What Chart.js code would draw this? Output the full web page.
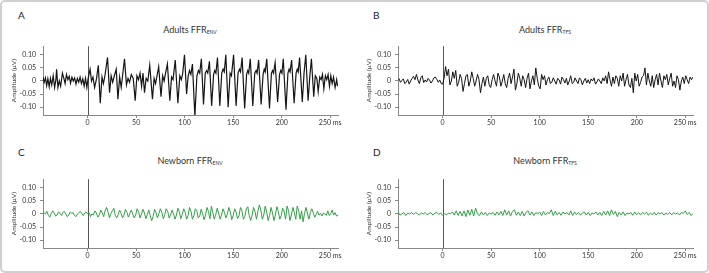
<!DOCTYPE html>
<html>
<head>
<meta charset="utf-8">
<script src="https://cdn.jsdelivr.net/npm/chart.js@4.4.1/dist/chart.umd.min.js"></script>
<style>
  body { margin: 0; background: #fff; font-family: Lato, sans-serif; }
  #frame { position: absolute; left: 0; top: 0; width: 709px; height: 273px; box-sizing: border-box;
           border: 2px solid #cfcfcf; border-radius: 5px; }
  .panel { position: absolute; width: 352px; height: 97px; }
  .letter { position: absolute; font-size: 10px; color: #222; }
  .title { position: absolute; font-size: 9px; font-weight: 400; color: #333; transform: translateX(-50%); white-space: nowrap; }
  .title sub { font-size: 5px; vertical-align: -1px; }
</style>
</head>
<body>
<div id="frame"></div>

<div class="letter" style="left:18px;top:9px">A</div>
<div class="title" style="left:190px;top:24px">Adults FFR<sub>ENV</sub></div>
<div class="panel" style="left:0;top:38px"><canvas id="a" width="352" height="97"></canvas></div>

<div class="letter" style="left:373px;top:9px">B</div>
<div class="title" style="left:545px;top:24px">Adults FFR<sub>TFS</sub></div>
<div class="panel" style="left:355px;top:38px"><canvas id="b" width="352" height="97"></canvas></div>

<div class="letter" style="left:18px;top:146px">C</div>
<div class="title" style="left:190px;top:155px">Newborn FFR<sub>ENV</sub></div>
<div class="panel" style="left:0;top:171px"><canvas id="c" width="352" height="97"></canvas></div>

<div class="letter" style="left:373px;top:146px">D</div>
<div class="title" style="left:545px;top:155px">Newborn FFR<sub>TFS</sub></div>
<div class="panel" style="left:355px;top:171px"><canvas id="d" width="352" height="97"></canvas></div>

<script>
const xTicks = [0, 50, 100, 150, 200, 250];
const yTicks = [-0.1, -0.05, 0, 0.05, 0.1];
const yTickLabels = ['-0.10', '-0.05', '0', '0.05', '0.10'];

// Adults ENV: turning points (ms, µV)
const adultEnvTimes = [
  -46, -44.8, -43.5, -42.2, -41, -39.6, -38.4, -37, -35.5, -34, -32.7, -32, -30.6, -29.2, -27.8, -26, -24.6, -23.2,
  -21.8, -20.4, -19, -17.6, -16.2, -14.8, -13.4, -12, -10.6, -9.2, -7.8, -6.4, -5, -3.6, -2.2, -0.8,
  0.5, 2.5, 4, 5.5, 7.2, 9.2, 11, 13, 14.8, 16.3, 17.8, 20.5, 22.6, 24.2, 25.8, 27.5, 29.5, 31.2, 33, 34.6, 36, 38,
  40, 41.6, 43.2, 45, 47, 49, 50.8, 52.4, 54, 55.6, 57, 58.6, 60.3, 62, 64, 66.8, 68.5, 70, 71.5, 73.2, 75.6, 77.3,
  78.8, 80.3, 82.2, 84.7, 86.5, 88, 90.3, 93, 95, 96.6, 98, 99.8, 102, 103.6, 105, 106.4, 108, 110.5, 112.6, 114.2,
  115.5, 117.2, 119.4, 121.2, 122.6, 123.8, 125.5, 127.8, 129.8, 131, 132.2, 133.8, 136.2, 138.2, 139.6, 140.8,
  142.4, 144.8, 146.8, 148.2, 150.4, 153, 155, 156.5, 157.6, 159.2, 161.8, 163.8, 165, 166, 167.6, 170.2, 172.2,
  173.6, 174.6, 176.2, 178.8, 180.8, 182, 183, 184.6, 187.4, 189.4, 190.6, 191.6, 193.2, 195.8, 197.8, 199, 200.2,
  201.6, 204.4, 206.4, 207.6, 208.6, 210.2, 212.8, 214.8, 216, 217, 218.4, 221.2, 223, 224.8, 227.2, 229, 230.6,
  233, 234.6, 236.2, 237.6, 239.2, 240.6, 242, 243.4, 245, 246.4, 247.8, 249.2, 250.6, 252, 253.4, 255, 256.6, 257.5
];
const adultEnvValues = [
  0.015, -0.005, 0.012, -0.018, 0.008, -0.022, 0.01, -0.015, 0.02, -0.025, 0.005, 0.045, -0.025, 0.0, -0.02, 0.03, 0.012, -0.01,
  0.025, 0.005, 0.018, -0.008, 0.015, 0.0, 0.012, -0.012, 0.01, -0.005, 0.015, -0.01, 0.008, -0.02, 0.01, -0.025,
  0.01, 0.045, 0.0, 0.015, -0.025, 0.01, 0.06, -0.085, 0.015, -0.01, 0.02, 0.09, -0.045, 0.02, -0.005, 0.02, 0.045, -0.07, 0.015, -0.025, 0.02, 0.085,
  -0.015, 0.01, -0.005, 0.025, 0.01, -0.075, 0.02, 0.005, 0.03, -0.02, 0.03, -0.045, 0.01, 0.0, 0.06, -0.07, 0.01, -0.01, 0.02, 0.055, -0.06, 0.02,
  0.0, 0.03, 0.065, -0.075, 0.015, 0.005, 0.08, -0.085, 0.02, 0.005, 0.03, 0.1, -0.05, 0.02, 0.04, 0.025, 0.065, -0.135, 0.02, 0.04,
  0.03, 0.085, -0.09, 0.03, 0.04, 0.03, 0.075, -0.095, 0.025, 0.04, 0.03, 0.09, -0.095, 0.03, 0.045, 0.035,
  0.1, -0.1, 0.03, 0.02, 0.1, -0.095, 0.03, 0.045, 0.035, 0.09, -0.105, 0.025, 0.04, 0.03, 0.085, -0.095, 0.03,
  0.04, 0.03, 0.08, -0.09, 0.025, 0.045, 0.035, 0.085, -0.105, 0.03, 0.04, 0.03, 0.07, -0.08, 0.025, 0.04, 0.03,
  0.085, -0.11, 0.03, 0.045, 0.035, 0.08, -0.085, 0.03, 0.045, 0.035, 0.09, -0.08, 0.03, 0.1, -0.075, 0.02, 0.085,
  -0.06, 0.02, 0.01, -0.04, 0.015, 0.005, 0.025, -0.03, 0.02, 0.005, 0.025, -0.02, 0.02, -0.01, 0.015, -0.025, 0.005, -0.02
];

// Adults TFS: one value every 1.5 ms from -45 ms
const adultTfsStart = -45, adultTfsStep = 1.5;
const adultTfsValues = [
  0.01, -0.005, 0.002, 0.008, -0.01, -0.004, 0.006, -0.012, 0.0, 0.01,
  0.018, 0.005, 0.025, 0.004, -0.01, 0.012, 0.02, -0.006, 0.004, -0.004,
  0.01, 0.004, -0.008, 0.0, 0.012, 0.015, 0.006, -0.005, 0.004, -0.01,
  -0.012,
  0.01, 0.055, 0.02, 0.045, -0.015, 0.0, 0.035, 0.01, 0.04, -0.02,
  -0.005, 0.025, 0.01, -0.04, -0.01, 0.02, 0.025, -0.02, 0.0, 0.035,
  0.01, -0.02, 0.0, 0.025, 0.005, -0.045, -0.01, 0.015, -0.02, 0.01,
  0.02, -0.015, -0.025, 0.005, 0.025, 0.0, -0.02, 0.03, 0.015, -0.02,
  0.0, 0.025, -0.01, -0.025, 0.01, 0.03, -0.01, 0.015, 0.045, -0.035,
  -0.01, 0.03, 0.01, -0.02, 0.02, 0.005, -0.025, 0.01, 0.03, -0.03,
  0.0, 0.02, -0.015, 0.05, 0.01, -0.02, -0.03, 0.025, 0.005, 0.02,
  -0.015, 0.005, 0.015, -0.01, -0.005, 0.012, 0.0, -0.012, 0.01, 0.005,
  -0.012, 0.015, 0.005, -0.008, 0.01, -0.015, 0.0, 0.02, -0.01, -0.005,
  0.012, 0.0, -0.01, 0.012, 0.005, -0.015, 0.0, 0.01, -0.008, 0.005,
  -0.01, 0.008, 0.0, 0.012, -0.012, -0.004, 0.008, 0.0, -0.01, 0.012,
  0.0, 0.02, -0.01, 0.035, 0.005, -0.02, 0.015, -0.01, 0.02, 0.01,
  -0.02, 0.02, 0.0, 0.03, -0.02, 0.005, 0.025, -0.015, -0.025, 0.01,
  -0.045, 0.03, 0.0, 0.025, -0.02, -0.005, 0.015, 0.02, 0.05, -0.015,
  0.03, 0.0, -0.02, 0.02, -0.025, 0.005, 0.025, -0.015, 0.03, 0.0,
  -0.025, 0.02, 0.005, 0.025, -0.015, 0.01, 0.03, -0.02, 0.0, -0.025,
  0.02, 0.005, -0.035, 0.0, 0.015, -0.01, 0.02, 0.005, -0.01, 0.015,
  0.005, 0.015
];

// Newborn ENV: one value every 1.5 ms from -45 ms
const newbornEnvStart = -45, newbornEnvStep = 1.5;
const newbornEnvValues = [
  0.005, 0.0, 0.01, -0.005, -0.012, 0.002, 0.012, 0.004, -0.008, -0.004,
  0.008, 0.003, -0.006, 0.006, 0.01, 0.0, -0.01, -0.004, 0.008, 0.002,
  0.005, -0.006, -0.01, 0.0, 0.006, 0.01, 0.002, -0.006, 0.004, 0.008,
  0.0,
  0.005, -0.01, 0.0, -0.004, 0.012, 0.004, -0.012, -0.004, 0.015, 0.005,
  -0.01, 0.012, 0.025, 0.008, -0.015, 0.002, 0.012, 0.022, -0.005, -0.015,
  -0.002, 0.015, 0.002, -0.015, -0.004, 0.018, 0.006, -0.012, 0.002, 0.015,
  0.0, -0.015, -0.004, 0.02, 0.008, -0.015, 0.0, 0.018, 0.004, -0.018,
  -0.002, 0.015, -0.006, -0.025, -0.01, 0.018, 0.004, -0.015, 0.002, 0.02,
  0.006, -0.018, -0.002, 0.02, 0.01, -0.015, -0.004, 0.015, 0.0, -0.02,
  -0.004, 0.022, 0.008, -0.018, -0.002, 0.02, 0.006, -0.02, -0.006, 0.025,
  0.01, -0.02, -0.006, 0.02, 0.012, -0.015, -0.008, 0.018, 0.002, -0.022,
  -0.004, 0.025, 0.01, -0.018, 0.03, 0.006, -0.02, -0.002, 0.022, 0.004,
  -0.02, -0.004, 0.02, 0.006, -0.015, 0.0, 0.025, 0.008, -0.022, -0.006,
  0.02, 0.008, -0.018, -0.006, 0.025, 0.012, -0.02, -0.01, 0.02, 0.028,
  -0.006, -0.025, -0.004, 0.025, 0.008, -0.02, 0.012, 0.035, 0.015, -0.02,
  -0.004, 0.03, 0.008, -0.025, -0.006, 0.025, 0.004, -0.025, -0.004, 0.028,
  0.01, -0.02, -0.006, 0.022, 0.01, -0.02, 0.03, 0.014, -0.025, -0.004,
  0.025, 0.006, -0.02, 0.03, 0.012, -0.02, 0.012, -0.03, 0.002, 0.025,
  0.004, -0.02, 0.006, 0.02, 0.004, -0.012, -0.002, 0.01, -0.004, 0.003,
  -0.008, 0.004, 0.0, -0.005, 0.012, -0.006, 0.002, 0.015, -0.004, 0.005,
  -0.008, -0.004
];

// Newborn TFS: one value every 2 ms from -46 ms
const newbornTfsStart = -46, newbornTfsStep = 2;
const newbornTfsValues = [
  0.008, -0.004, 0.0, 0.006, -0.006, 0.004, 0.0, 0.006, -0.002, 0.005,
  0.002, -0.004, 0.004, 0.0, 0.006, -0.003, 0.002, 0.005, -0.004, 0.003,
  0.006, -0.002, 0.004,
  -0.006,
  0.002, -0.004, 0.004, 0.0, 0.008, -0.004, 0.012, -0.006, 0.01, -0.008,
  0.012, -0.01, 0.015, -0.005, 0.018, -0.008, 0.022, 0.0, -0.006, 0.008,
  -0.004, 0.006, -0.006, 0.004, 0.0, 0.006, -0.005, 0.008, -0.004, 0.01,
  -0.006, 0.016, -0.004, 0.012, -0.008, 0.01, 0.016, -0.005, 0.008, -0.006,
  0.01, -0.008, 0.006, 0.012, -0.004, 0.008, -0.006, 0.005, 0.0, 0.008,
  -0.006, 0.01, -0.004, 0.006, 0.002, 0.016, -0.006, 0.01, -0.004, 0.006,
  -0.005, 0.008, 0.0, 0.006, -0.004, 0.012, -0.006, 0.008, -0.002, 0.006,
  -0.005, 0.004, 0.008, -0.004, 0.006, -0.006, 0.004, 0.0, 0.008, -0.004,
  0.006, -0.006, 0.01, -0.004, 0.012, -0.006, 0.016, -0.002, 0.01, -0.01,
  0.006, -0.004, 0.008, -0.006, 0.004, 0.0, 0.006, -0.005, 0.008, -0.003,
  0.005, -0.004, 0.006, 0.0, 0.007, -0.005, 0.004, -0.003, 0.006, -0.004,
  0.005, 0.0, 0.006, -0.004, 0.004, -0.002, 0.006, -0.004, 0.005, 0.0,
  0.004, -0.004, 0.006, 0.002, 0.012, -0.002, 0.006, -0.006, 0.002
];

const pairs = (times, values) => values.map((v, i) => ({ x: times[i], y: v }));
const stepped = (start, step, values) => values.map((v, i) => ({ x: start + i * step, y: v }));

const zeroLine = {
  id: 'zeroLine',
  beforeDatasetsDraw(chart) {
    const { ctx, chartArea, scales } = chart;
    const x = Math.round(scales.x.getPixelForValue(0)) + 0.5;
    ctx.save();
    ctx.strokeStyle = '#555';
    ctx.lineWidth = 1;
    ctx.beginPath();
    ctx.moveTo(x, chartArea.top);
    ctx.lineTo(x, chartArea.bottom);
    ctx.stroke();
    ctx.restore();
  }
};

const tickFont = { family: 'Lato', size: 7 };

function panel(id, points, color, width) {
  new Chart(document.getElementById(id), {
    type: 'line',
    data: { datasets: [{ data: points, borderColor: color, borderWidth: width, pointRadius: 0, tension: 0, fill: false }] },
    plugins: [zeroLine],
    options: {
      responsive: false,
      animation: false,
      devicePixelRatio: 1,
      layout: { padding: { left: 10, right: 14, top: 4, bottom: 0 } },
      plugins: { legend: { display: false }, tooltip: { enabled: false } },
      scales: {
        x: {
          type: 'linear', min: -46, max: 258,
          afterBuildTicks: s => { s.ticks = xTicks.map(v => ({ value: v })); },
          afterFit: s => { s.height = 20; },
          ticks: { callback: v => v === 250 ? '250 ms' : String(v), font: tickFont, color: '#333',
                   padding: 1, maxRotation: 0, autoSkip: false },
          grid: { drawOnChartArea: false, tickLength: 3, color: '#888' },
          border: { color: '#888' }
        },
        y: {
          min: -0.13, max: 0.133,
          afterBuildTicks: s => { s.ticks = yTicks.map(v => ({ value: v })); },
          afterFit: s => { s.width = 33; },
          ticks: { callback: (v, i) => yTickLabels[i], font: tickFont, color: '#333', padding: 4 },
          title: { display: true, text: 'Amplitude (µV)', font: { family: 'Lato', size: 6.5 }, color: '#333',
                   padding: { top: 0, bottom: 0 } },
          grid: { drawOnChartArea: false, tickLength: 3, color: '#888' },
          border: { color: '#888' }
        }
      }
    }
  });
}

panel('a', pairs(adultEnvTimes, adultEnvValues), '#151515', 1.2);
panel('b', stepped(adultTfsStart, adultTfsStep, adultTfsValues), '#151515', 1.0);
panel('c', stepped(newbornEnvStart, newbornEnvStep, newbornEnvValues), '#33a047', 1.0);
panel('d', stepped(newbornTfsStart, newbornTfsStep, newbornTfsValues), '#33a047', 1.0);
</script>
</body>
</html>
